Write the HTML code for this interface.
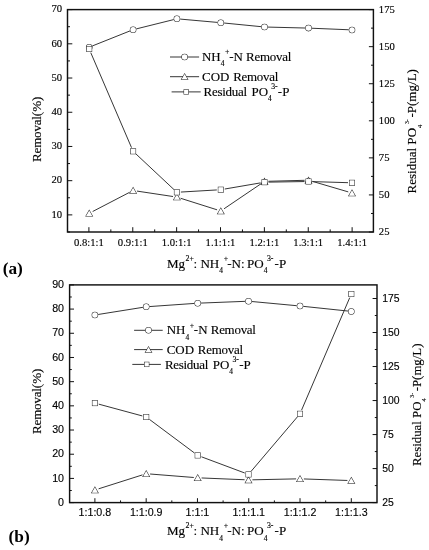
<!DOCTYPE html><html><head><meta charset="utf-8"><title>chart</title>
<style>html,body{margin:0;padding:0;background:#fff}svg{display:block}text{stroke:#000;stroke-width:0.15px;stroke-linejoin:round}</style></head><body>
<svg width="429" height="550" viewBox="0 0 429 550">
<rect width="429" height="550" fill="#fff"/><g opacity="0.999" style="paint-order:stroke">
<rect x="67.5" y="9.6" width="305.9" height="222.4" fill="none" stroke="#111" stroke-width="1.45"/>
<line x1="67.5" y1="214.89" x2="72.3" y2="214.89" stroke="#111" stroke-width="1.0"/><line x1="67.5" y1="180.68" x2="72.3" y2="180.68" stroke="#111" stroke-width="1.0"/><line x1="67.5" y1="146.46" x2="72.3" y2="146.46" stroke="#111" stroke-width="1.0"/><line x1="67.5" y1="112.25" x2="72.3" y2="112.25" stroke="#111" stroke-width="1.0"/><line x1="67.5" y1="78.03" x2="72.3" y2="78.03" stroke="#111" stroke-width="1.0"/><line x1="67.5" y1="43.82" x2="72.3" y2="43.82" stroke="#111" stroke-width="1.0"/><line x1="67.5" y1="9.60" x2="72.3" y2="9.60" stroke="#111" stroke-width="1.0"/>
<line x1="67.5" y1="232.00" x2="70.0" y2="232.00" stroke="#111" stroke-width="1.0"/><line x1="67.5" y1="197.78" x2="70.0" y2="197.78" stroke="#111" stroke-width="1.0"/><line x1="67.5" y1="163.57" x2="70.0" y2="163.57" stroke="#111" stroke-width="1.0"/><line x1="67.5" y1="129.35" x2="70.0" y2="129.35" stroke="#111" stroke-width="1.0"/><line x1="67.5" y1="95.14" x2="70.0" y2="95.14" stroke="#111" stroke-width="1.0"/><line x1="67.5" y1="60.92" x2="70.0" y2="60.92" stroke="#111" stroke-width="1.0"/><line x1="67.5" y1="26.71" x2="70.0" y2="26.71" stroke="#111" stroke-width="1.0"/>
<line x1="373.4" y1="232.00" x2="368.9" y2="232.00" stroke="#111" stroke-width="1.0"/><line x1="373.4" y1="194.93" x2="368.9" y2="194.93" stroke="#111" stroke-width="1.0"/><line x1="373.4" y1="157.87" x2="368.9" y2="157.87" stroke="#111" stroke-width="1.0"/><line x1="373.4" y1="120.80" x2="368.9" y2="120.80" stroke="#111" stroke-width="1.0"/><line x1="373.4" y1="83.73" x2="368.9" y2="83.73" stroke="#111" stroke-width="1.0"/><line x1="373.4" y1="46.67" x2="368.9" y2="46.67" stroke="#111" stroke-width="1.0"/><line x1="373.4" y1="9.60" x2="368.9" y2="9.60" stroke="#111" stroke-width="1.0"/>
<line x1="373.4" y1="213.47" x2="371.0" y2="213.47" stroke="#111" stroke-width="1.0"/><line x1="373.4" y1="176.40" x2="371.0" y2="176.40" stroke="#111" stroke-width="1.0"/><line x1="373.4" y1="139.33" x2="371.0" y2="139.33" stroke="#111" stroke-width="1.0"/><line x1="373.4" y1="102.27" x2="371.0" y2="102.27" stroke="#111" stroke-width="1.0"/><line x1="373.4" y1="65.20" x2="371.0" y2="65.20" stroke="#111" stroke-width="1.0"/><line x1="373.4" y1="28.13" x2="371.0" y2="28.13" stroke="#111" stroke-width="1.0"/>
<line x1="88.90" y1="232.0" x2="88.90" y2="227.2" stroke="#111" stroke-width="1.0"/><line x1="132.77" y1="232.0" x2="132.77" y2="227.2" stroke="#111" stroke-width="1.0"/><line x1="176.64" y1="232.0" x2="176.64" y2="227.2" stroke="#111" stroke-width="1.0"/><line x1="220.51" y1="232.0" x2="220.51" y2="227.2" stroke="#111" stroke-width="1.0"/><line x1="264.38" y1="232.0" x2="264.38" y2="227.2" stroke="#111" stroke-width="1.0"/><line x1="308.25" y1="232.0" x2="308.25" y2="227.2" stroke="#111" stroke-width="1.0"/><line x1="352.12" y1="232.0" x2="352.12" y2="227.2" stroke="#111" stroke-width="1.0"/>
<line x1="110.83" y1="232.0" x2="110.83" y2="229.4" stroke="#111" stroke-width="1.0"/><line x1="154.70" y1="232.0" x2="154.70" y2="229.4" stroke="#111" stroke-width="1.0"/><line x1="198.57" y1="232.0" x2="198.57" y2="229.4" stroke="#111" stroke-width="1.0"/><line x1="242.44" y1="232.0" x2="242.44" y2="229.4" stroke="#111" stroke-width="1.0"/><line x1="286.31" y1="232.0" x2="286.31" y2="229.4" stroke="#111" stroke-width="1.0"/><line x1="330.18" y1="232.0" x2="330.18" y2="229.4" stroke="#111" stroke-width="1.0"/>
<text x="62.20" y="217.69" font-family='"Liberation Serif", serif' font-size="10.67" fill="#000" text-anchor="end">10</text><text x="62.20" y="183.48" font-family='"Liberation Serif", serif' font-size="10.67" fill="#000" text-anchor="end">20</text><text x="62.20" y="149.26" font-family='"Liberation Serif", serif' font-size="10.67" fill="#000" text-anchor="end">30</text><text x="62.20" y="115.05" font-family='"Liberation Serif", serif' font-size="10.67" fill="#000" text-anchor="end">40</text><text x="62.20" y="80.83" font-family='"Liberation Serif", serif' font-size="10.67" fill="#000" text-anchor="end">50</text><text x="62.20" y="46.62" font-family='"Liberation Serif", serif' font-size="10.67" fill="#000" text-anchor="end">60</text><text x="62.20" y="12.40" font-family='"Liberation Serif", serif' font-size="10.67" fill="#000" text-anchor="end">70</text>
<text x="378.80" y="234.80" font-family='"Liberation Serif", serif' font-size="10.67" fill="#000" text-anchor="start">25</text><text x="378.80" y="197.88" font-family='"Liberation Serif", serif' font-size="10.67" fill="#000" text-anchor="start">50</text><text x="378.80" y="160.97" font-family='"Liberation Serif", serif' font-size="10.67" fill="#000" text-anchor="start">75</text><text x="378.80" y="124.05" font-family='"Liberation Serif", serif' font-size="10.67" fill="#000" text-anchor="start">100</text><text x="378.80" y="87.13" font-family='"Liberation Serif", serif' font-size="10.67" fill="#000" text-anchor="start">125</text><text x="378.80" y="50.22" font-family='"Liberation Serif", serif' font-size="10.67" fill="#000" text-anchor="start">150</text><text x="378.80" y="13.30" font-family='"Liberation Serif", serif' font-size="10.67" fill="#000" text-anchor="start">175</text>
<text x="88.90" y="245.90" font-family='"Liberation Serif", serif' font-size="10.67" fill="#000" text-anchor="middle">0.8:1:1</text><text x="132.77" y="245.90" font-family='"Liberation Serif", serif' font-size="10.67" fill="#000" text-anchor="middle">0.9:1:1</text><text x="176.64" y="245.90" font-family='"Liberation Serif", serif' font-size="10.67" fill="#000" text-anchor="middle">1.0:1:1</text><text x="220.51" y="245.90" font-family='"Liberation Serif", serif' font-size="10.67" fill="#000" text-anchor="middle">1.1:1:1</text><text x="264.38" y="245.90" font-family='"Liberation Serif", serif' font-size="10.67" fill="#000" text-anchor="middle">1.2:1:1</text><text x="308.25" y="245.90" font-family='"Liberation Serif", serif' font-size="10.67" fill="#000" text-anchor="middle">1.3:1:1</text><text x="352.12" y="245.90" font-family='"Liberation Serif", serif' font-size="10.67" fill="#000" text-anchor="middle">1.4:1:1</text>
<path d="M92.27 45.98 L130.03 30.92 M136.30 28.90 L173.70 19.60 M180.19 19.09 L217.51 22.41 M224.08 23.02 L261.22 26.68 M267.80 27.08 L305.20 28.02 M311.80 28.24 L348.70 29.76 " fill="none" stroke="#2b2b2b" stroke-width="0.95"/><circle cx="89.2" cy="47.2" r="2.75" fill="#fff" stroke="#252525" stroke-width="1.05"/><circle cx="133.1" cy="29.7" r="2.75" fill="#fff" stroke="#252525" stroke-width="1.05"/><circle cx="176.9" cy="18.8" r="2.75" fill="#fff" stroke="#252525" stroke-width="1.05"/><circle cx="220.8" cy="22.7" r="2.75" fill="#fff" stroke="#252525" stroke-width="1.05"/><circle cx="264.5" cy="27.0" r="2.75" fill="#fff" stroke="#252525" stroke-width="1.05"/><circle cx="308.5" cy="28.1" r="2.75" fill="#fff" stroke="#252525" stroke-width="1.05"/><circle cx="352.0" cy="29.9" r="2.75" fill="#fff" stroke="#252525" stroke-width="1.05"/>
<path d="M92.66 211.50 L129.64 192.30 M136.96 191.08 L173.04 196.52 M180.62 198.28 L217.08 209.82 M224.03 208.81 L261.27 183.59 M268.40 181.29 L304.60 180.31 M312.24 181.30 L348.26 191.90 " fill="none" stroke="#2b2b2b" stroke-width="0.95"/><path d="M89.20 210.57 L92.30 216.03 L86.10 216.03 Z" fill="#fff" stroke="#252525" stroke-width="1.05" stroke-linejoin="miter"/><path d="M133.10 187.77 L136.20 193.23 L130.00 193.23 Z" fill="#fff" stroke="#252525" stroke-width="1.05" stroke-linejoin="miter"/><path d="M176.90 194.37 L180.00 199.83 L173.80 199.83 Z" fill="#fff" stroke="#252525" stroke-width="1.05" stroke-linejoin="miter"/><path d="M220.80 208.27 L223.90 213.73 L217.70 213.73 Z" fill="#fff" stroke="#252525" stroke-width="1.05" stroke-linejoin="miter"/><path d="M264.50 178.67 L267.60 184.13 L261.40 184.13 Z" fill="#fff" stroke="#252525" stroke-width="1.05" stroke-linejoin="miter"/><path d="M308.50 177.47 L311.60 182.93 L305.40 182.93 Z" fill="#fff" stroke="#252525" stroke-width="1.05" stroke-linejoin="miter"/><path d="M352.00 190.27 L355.10 195.73 L348.90 195.73 Z" fill="#fff" stroke="#252525" stroke-width="1.05" stroke-linejoin="miter"/>
<path d="M90.78 52.68 L131.52 147.62 M136.02 154.03 L173.98 189.57 M180.89 192.06 L216.81 189.94 M224.74 189.02 L260.56 182.88 M268.50 182.14 L304.50 181.56 M312.50 181.62 L348.00 182.68 " fill="none" stroke="#2b2b2b" stroke-width="0.95"/><rect x="86.75" y="46.55" width="4.9" height="4.9" fill="#fff" stroke="#252525" stroke-width="1.05"/><rect x="130.65" y="148.85" width="4.9" height="4.9" fill="#fff" stroke="#252525" stroke-width="1.05"/><rect x="174.45" y="189.85" width="4.9" height="4.9" fill="#fff" stroke="#252525" stroke-width="1.05"/><rect x="218.35" y="187.25" width="4.9" height="4.9" fill="#fff" stroke="#252525" stroke-width="1.05"/><rect x="262.05" y="179.75" width="4.9" height="4.9" fill="#fff" stroke="#252525" stroke-width="1.05"/><rect x="306.05" y="179.05" width="4.9" height="4.9" fill="#fff" stroke="#252525" stroke-width="1.05"/><rect x="349.55" y="180.35" width="4.9" height="4.9" fill="#fff" stroke="#252525" stroke-width="1.05"/>
<line x1="170.0" y1="57.0" x2="199.1" y2="57.0" stroke="#2b2b2b" stroke-width="0.95"/><circle cx="184.6" cy="57.0" r="2.75" fill="#fff" stroke="#252525" stroke-width="1.05"/><line x1="170.0" y1="76.7" x2="199.1" y2="76.7" stroke="#2b2b2b" stroke-width="0.95"/><path d="M184.60 74.06 L187.60 79.34 L181.60 79.34 Z" fill="#fff" stroke="#252525" stroke-width="1.05" stroke-linejoin="miter"/><line x1="171.6" y1="91.9" x2="200.7" y2="91.9" stroke="#2b2b2b" stroke-width="0.95"/><rect x="184.10" y="89.80" width="4.2" height="4.2" fill="#fff" stroke="#252525" stroke-width="1.05"/><text x="202.0" y="60.7" font-family='"Liberation Serif", serif' font-size="12.95" fill="#000" text-anchor="start" >NH<tspan font-size="7.38" dx="0.0" dy="5.31">4</tspan><tspan dy="-5.31">&#8203;</tspan><tspan font-size="7.77" dx="0.7" dy="-6.86">+</tspan><tspan dx="-0.3" dy="6.86">&#8203;</tspan>-N <tspan dx="0" letter-spacing="-0.25">Removal</tspan></text><text x="202.0" y="80.7" font-family='"Liberation Serif", serif' font-size="12.95" fill="#000" text-anchor="start" >COD <tspan dx="0.6" letter-spacing="-0.25">Removal</tspan></text><text x="203.6" y="95.5" font-family='"Liberation Serif", serif' font-size="12.95" fill="#000" text-anchor="start" ><tspan dx="0" letter-spacing="-0.27">Residual</tspan><tspan dx="1.55" letter-spacing="0"> PO</tspan><tspan font-size="7.38" dx="0.0" dy="5.31">4</tspan><tspan dy="-5.31">&#8203;</tspan><tspan font-size="7.77" dx="-0.6" dy="-6.86">3-</tspan><tspan dx="-0.3" dy="6.86">&#8203;</tspan><tspan dx="0.5" letter-spacing="0">-P</tspan></text>
<text x="0" y="0" font-family='"Liberation Serif", serif' font-size="13.07" fill="#000" text-anchor="middle" transform="translate(41.0 129.3) rotate(-90)"><tspan dx="0" letter-spacing="-0.2">Removal</tspan>(%)</text>
<text x="0" y="0" font-family='"Liberation Serif", serif' font-size="13.05" fill="#000" text-anchor="middle" transform="translate(416.3 131.3) rotate(-90)">Residual PO<tspan font-size="6.53" dx="0.0" dy="5.35">4</tspan><tspan dy="-5.35">&#8203;</tspan><tspan font-size="5.87" dx="0.6" dy="-6.92">3-</tspan><tspan dx="1.6" dy="6.92">&#8203;</tspan>-P(mg/L)</text>
<text x="226.6" y="267.9" font-family='"Liberation Serif", serif' font-size="13.07" fill="#000" text-anchor="middle" >Mg<tspan font-size="7.84" dx="0.3" dy="-6.93">2+</tspan><tspan dx="-0.3" dy="6.93">&#8203;</tspan>: NH<tspan font-size="7.45" dx="0.0" dy="5.36">4</tspan><tspan dy="-5.36">&#8203;</tspan><tspan font-size="7.84" dx="0.7" dy="-6.93">+</tspan><tspan dx="-0.3" dy="6.93">&#8203;</tspan><tspan dx="-0.6" letter-spacing="0">-N:</tspan><tspan dx="-0.8" letter-spacing="0"> PO</tspan><tspan font-size="7.45" dx="0.0" dy="5.36">4</tspan><tspan dy="-5.36">&#8203;</tspan><tspan font-size="7.84" dx="-0.6" dy="-6.93">3-</tspan><tspan dx="-0.3" dy="6.93">&#8203;</tspan><tspan dx="1.4" letter-spacing="0">-P</tspan></text>
<text x="2.7" y="274.2" font-family='"Liberation Serif", serif' font-size="17.3" font-weight="bold" fill="#000" style="stroke:none">(a)</text>
<rect x="69.6" y="284.9" width="307.4" height="217.70000000000005" fill="none" stroke="#111" stroke-width="1.45"/>
<line x1="69.6" y1="502.60" x2="74.0" y2="502.60" stroke="#111" stroke-width="1.0"/><line x1="69.6" y1="478.41" x2="74.0" y2="478.41" stroke="#111" stroke-width="1.0"/><line x1="69.6" y1="454.22" x2="74.0" y2="454.22" stroke="#111" stroke-width="1.0"/><line x1="69.6" y1="430.03" x2="74.0" y2="430.03" stroke="#111" stroke-width="1.0"/><line x1="69.6" y1="405.84" x2="74.0" y2="405.84" stroke="#111" stroke-width="1.0"/><line x1="69.6" y1="381.66" x2="74.0" y2="381.66" stroke="#111" stroke-width="1.0"/><line x1="69.6" y1="357.47" x2="74.0" y2="357.47" stroke="#111" stroke-width="1.0"/><line x1="69.6" y1="333.28" x2="74.0" y2="333.28" stroke="#111" stroke-width="1.0"/><line x1="69.6" y1="309.09" x2="74.0" y2="309.09" stroke="#111" stroke-width="1.0"/><line x1="69.6" y1="284.90" x2="74.0" y2="284.90" stroke="#111" stroke-width="1.0"/>
<line x1="69.6" y1="490.51" x2="71.8" y2="490.51" stroke="#111" stroke-width="1.0"/><line x1="69.6" y1="466.32" x2="71.8" y2="466.32" stroke="#111" stroke-width="1.0"/><line x1="69.6" y1="442.13" x2="71.8" y2="442.13" stroke="#111" stroke-width="1.0"/><line x1="69.6" y1="417.94" x2="71.8" y2="417.94" stroke="#111" stroke-width="1.0"/><line x1="69.6" y1="393.75" x2="71.8" y2="393.75" stroke="#111" stroke-width="1.0"/><line x1="69.6" y1="369.56" x2="71.8" y2="369.56" stroke="#111" stroke-width="1.0"/><line x1="69.6" y1="345.37" x2="71.8" y2="345.37" stroke="#111" stroke-width="1.0"/><line x1="69.6" y1="321.18" x2="71.8" y2="321.18" stroke="#111" stroke-width="1.0"/><line x1="69.6" y1="296.99" x2="71.8" y2="296.99" stroke="#111" stroke-width="1.0"/>
<line x1="377.0" y1="502.60" x2="372.6" y2="502.60" stroke="#111" stroke-width="1.0"/><line x1="377.0" y1="468.58" x2="372.6" y2="468.58" stroke="#111" stroke-width="1.0"/><line x1="377.0" y1="434.57" x2="372.6" y2="434.57" stroke="#111" stroke-width="1.0"/><line x1="377.0" y1="400.55" x2="372.6" y2="400.55" stroke="#111" stroke-width="1.0"/><line x1="377.0" y1="366.54" x2="372.6" y2="366.54" stroke="#111" stroke-width="1.0"/><line x1="377.0" y1="332.52" x2="372.6" y2="332.52" stroke="#111" stroke-width="1.0"/><line x1="377.0" y1="298.51" x2="372.6" y2="298.51" stroke="#111" stroke-width="1.0"/>
<line x1="377.0" y1="485.59" x2="374.8" y2="485.59" stroke="#111" stroke-width="1.0"/><line x1="377.0" y1="451.58" x2="374.8" y2="451.58" stroke="#111" stroke-width="1.0"/><line x1="377.0" y1="417.56" x2="374.8" y2="417.56" stroke="#111" stroke-width="1.0"/><line x1="377.0" y1="383.55" x2="374.8" y2="383.55" stroke="#111" stroke-width="1.0"/><line x1="377.0" y1="349.53" x2="374.8" y2="349.53" stroke="#111" stroke-width="1.0"/><line x1="377.0" y1="315.51" x2="374.8" y2="315.51" stroke="#111" stroke-width="1.0"/>
<line x1="94.90" y1="502.6" x2="94.90" y2="498.20000000000005" stroke="#111" stroke-width="1.0"/><line x1="146.18" y1="502.6" x2="146.18" y2="498.20000000000005" stroke="#111" stroke-width="1.0"/><line x1="197.46" y1="502.6" x2="197.46" y2="498.20000000000005" stroke="#111" stroke-width="1.0"/><line x1="248.74" y1="502.6" x2="248.74" y2="498.20000000000005" stroke="#111" stroke-width="1.0"/><line x1="300.02" y1="502.6" x2="300.02" y2="498.20000000000005" stroke="#111" stroke-width="1.0"/><line x1="351.30" y1="502.6" x2="351.30" y2="498.20000000000005" stroke="#111" stroke-width="1.0"/>
<line x1="120.54" y1="502.6" x2="120.54" y2="500.40000000000003" stroke="#111" stroke-width="1.0"/><line x1="171.82" y1="502.6" x2="171.82" y2="500.40000000000003" stroke="#111" stroke-width="1.0"/><line x1="223.10" y1="502.6" x2="223.10" y2="500.40000000000003" stroke="#111" stroke-width="1.0"/><line x1="274.38" y1="502.6" x2="274.38" y2="500.40000000000003" stroke="#111" stroke-width="1.0"/><line x1="325.66" y1="502.6" x2="325.66" y2="500.40000000000003" stroke="#111" stroke-width="1.0"/>
<text x="64.00" y="505.80" font-family='"Liberation Sans", sans-serif' font-size="10.67" fill="#000" text-anchor="end">0</text><text x="64.00" y="481.61" font-family='"Liberation Sans", sans-serif' font-size="10.67" fill="#000" text-anchor="end">10</text><text x="64.00" y="457.42" font-family='"Liberation Sans", sans-serif' font-size="10.67" fill="#000" text-anchor="end">20</text><text x="64.00" y="433.23" font-family='"Liberation Sans", sans-serif' font-size="10.67" fill="#000" text-anchor="end">30</text><text x="64.00" y="409.04" font-family='"Liberation Sans", sans-serif' font-size="10.67" fill="#000" text-anchor="end">40</text><text x="64.00" y="384.86" font-family='"Liberation Sans", sans-serif' font-size="10.67" fill="#000" text-anchor="end">50</text><text x="64.00" y="360.67" font-family='"Liberation Sans", sans-serif' font-size="10.67" fill="#000" text-anchor="end">60</text><text x="64.00" y="336.48" font-family='"Liberation Sans", sans-serif' font-size="10.67" fill="#000" text-anchor="end">70</text><text x="64.00" y="312.29" font-family='"Liberation Sans", sans-serif' font-size="10.67" fill="#000" text-anchor="end">80</text><text x="64.00" y="288.10" font-family='"Liberation Sans", sans-serif' font-size="10.67" fill="#000" text-anchor="end">90</text>
<text x="382.30" y="505.90" font-family='"Liberation Sans", sans-serif' font-size="10.4" fill="#000" text-anchor="start">25</text><text x="382.30" y="471.88" font-family='"Liberation Sans", sans-serif' font-size="10.4" fill="#000" text-anchor="start">50</text><text x="382.30" y="437.87" font-family='"Liberation Sans", sans-serif' font-size="10.4" fill="#000" text-anchor="start">75</text><text x="382.30" y="403.85" font-family='"Liberation Sans", sans-serif' font-size="10.4" fill="#000" text-anchor="start">100</text><text x="382.30" y="369.84" font-family='"Liberation Sans", sans-serif' font-size="10.4" fill="#000" text-anchor="start">125</text><text x="382.30" y="335.82" font-family='"Liberation Sans", sans-serif' font-size="10.4" fill="#000" text-anchor="start">150</text><text x="382.30" y="301.81" font-family='"Liberation Sans", sans-serif' font-size="10.4" fill="#000" text-anchor="start">175</text>
<text x="94.90" y="516.10" font-family='"Liberation Sans", sans-serif' font-size="10.67" fill="#000" text-anchor="middle">1:1:0.8</text><text x="146.18" y="516.10" font-family='"Liberation Sans", sans-serif' font-size="10.67" fill="#000" text-anchor="middle">1:1:0.9</text><text x="197.46" y="516.10" font-family='"Liberation Sans", sans-serif' font-size="10.67" fill="#000" text-anchor="middle">1:1:1</text><text x="248.74" y="516.10" font-family='"Liberation Sans", sans-serif' font-size="10.67" fill="#000" text-anchor="middle">1:1:1.1</text><text x="300.02" y="516.10" font-family='"Liberation Sans", sans-serif' font-size="10.67" fill="#000" text-anchor="middle">1:1:1.2</text><text x="351.30" y="516.10" font-family='"Liberation Sans", sans-serif' font-size="10.67" fill="#000" text-anchor="middle">1:1:1.3</text>
<path d="M98.16 314.48 L142.94 307.32 M149.49 306.57 L194.41 303.43 M201.00 303.07 L245.20 301.33 M251.79 301.51 L296.71 305.69 M303.28 306.35 L348.02 311.05 " fill="none" stroke="#2b2b2b" stroke-width="0.95"/><circle cx="94.9" cy="315.0" r="2.75" fill="#fff" stroke="#252525" stroke-width="1.05"/><circle cx="146.2" cy="306.8" r="2.75" fill="#fff" stroke="#252525" stroke-width="1.05"/><circle cx="197.7" cy="303.2" r="2.75" fill="#fff" stroke="#252525" stroke-width="1.05"/><circle cx="248.5" cy="301.2" r="2.75" fill="#fff" stroke="#252525" stroke-width="1.05"/><circle cx="300.0" cy="306.0" r="2.75" fill="#fff" stroke="#252525" stroke-width="1.05"/><circle cx="351.3" cy="311.4" r="2.75" fill="#fff" stroke="#252525" stroke-width="1.05"/>
<path d="M98.62 488.82 L142.48 474.88 M150.09 474.01 L193.81 477.49 M201.60 477.96 L244.60 479.74 M252.40 479.82 L296.10 478.88 M303.90 478.94 L347.40 480.46 " fill="none" stroke="#2b2b2b" stroke-width="0.95"/><path d="M94.90 487.27 L98.00 492.73 L91.80 492.73 Z" fill="#fff" stroke="#252525" stroke-width="1.05" stroke-linejoin="miter"/><path d="M146.20 470.97 L149.30 476.43 L143.10 476.43 Z" fill="#fff" stroke="#252525" stroke-width="1.05" stroke-linejoin="miter"/><path d="M197.70 475.07 L200.80 480.53 L194.60 480.53 Z" fill="#fff" stroke="#252525" stroke-width="1.05" stroke-linejoin="miter"/><path d="M248.50 477.17 L251.60 482.63 L245.40 482.63 Z" fill="#fff" stroke="#252525" stroke-width="1.05" stroke-linejoin="miter"/><path d="M300.00 476.07 L303.10 481.53 L296.90 481.53 Z" fill="#fff" stroke="#252525" stroke-width="1.05" stroke-linejoin="miter"/><path d="M351.30 477.87 L354.40 483.33 L348.20 483.33 Z" fill="#fff" stroke="#252525" stroke-width="1.05" stroke-linejoin="miter"/>
<path d="M98.76 404.15 L142.34 415.95 M149.41 419.39 L194.49 453.01 M201.45 456.80 L244.75 473.00 M251.09 471.35 L297.41 416.85 M301.57 410.12 L349.73 297.68 " fill="none" stroke="#2b2b2b" stroke-width="0.95"/><rect x="92.45" y="400.65" width="4.9" height="4.9" fill="#fff" stroke="#252525" stroke-width="1.05"/><rect x="143.75" y="414.55" width="4.9" height="4.9" fill="#fff" stroke="#252525" stroke-width="1.05"/><rect x="195.25" y="452.95" width="4.9" height="4.9" fill="#fff" stroke="#252525" stroke-width="1.05"/><rect x="246.05" y="471.95" width="4.9" height="4.9" fill="#fff" stroke="#252525" stroke-width="1.05"/><rect x="297.55" y="411.35" width="4.9" height="4.9" fill="#fff" stroke="#252525" stroke-width="1.05"/><rect x="348.85" y="291.55" width="4.9" height="4.9" fill="#fff" stroke="#252525" stroke-width="1.05"/>
<line x1="134.1" y1="330.3" x2="162.7" y2="330.3" stroke="#2b2b2b" stroke-width="0.95"/><circle cx="148.5" cy="330.3" r="2.75" fill="#fff" stroke="#252525" stroke-width="1.05"/><line x1="134.1" y1="349.6" x2="162.7" y2="349.6" stroke="#2b2b2b" stroke-width="0.95"/><path d="M148.50 346.96 L151.50 352.24 L145.50 352.24 Z" fill="#fff" stroke="#252525" stroke-width="1.05" stroke-linejoin="miter"/><line x1="132.29999999999998" y1="364.4" x2="160.89999999999998" y2="364.4" stroke="#2b2b2b" stroke-width="0.95"/><rect x="144.60" y="362.30" width="4.2" height="4.2" fill="#fff" stroke="#252525" stroke-width="1.05"/><text x="166.7" y="334.4" font-family='"Liberation Serif", serif' font-size="12.95" fill="#000" text-anchor="start" >NH<tspan font-size="7.38" dx="0.0" dy="5.31">4</tspan><tspan dy="-5.31">&#8203;</tspan><tspan font-size="7.77" dx="0.7" dy="-6.86">+</tspan><tspan dx="-0.3" dy="6.86">&#8203;</tspan>-N <tspan dx="0" letter-spacing="-0.25">Removal</tspan></text><text x="166.7" y="354.0" font-family='"Liberation Serif", serif' font-size="12.95" fill="#000" text-anchor="start" >COD <tspan dx="0.6" letter-spacing="-0.25">Removal</tspan></text><text x="164.89999999999998" y="369.0" font-family='"Liberation Serif", serif' font-size="12.95" fill="#000" text-anchor="start" ><tspan dx="0" letter-spacing="-0.27">Residual</tspan><tspan dx="1.55" letter-spacing="0"> PO</tspan><tspan font-size="7.38" dx="0.0" dy="5.31">4</tspan><tspan dy="-5.31">&#8203;</tspan><tspan font-size="7.77" dx="-0.6" dy="-6.86">3-</tspan><tspan dx="-0.3" dy="6.86">&#8203;</tspan><tspan dx="0.5" letter-spacing="0">-P</tspan></text>
<text x="0" y="0" font-family='"Liberation Serif", serif' font-size="13.07" fill="#000" text-anchor="middle" transform="translate(41.3 401.3) rotate(-90)"><tspan dx="0" letter-spacing="-0.2">Removal</tspan>(%)</text>
<text x="0" y="0" font-family='"Liberation Serif", serif' font-size="12.85" fill="#000" text-anchor="middle" transform="translate(420.7 404.8) rotate(-90)">Residual PO<tspan font-size="6.42" dx="0.0" dy="5.27">4</tspan><tspan dy="-5.27">&#8203;</tspan><tspan font-size="5.78" dx="0.6" dy="-6.81">3-</tspan><tspan dx="1.6" dy="6.81">&#8203;</tspan>-P(mg/L)</text>
<text x="226.6" y="535.2" font-family='"Liberation Serif", serif' font-size="13.07" fill="#000" text-anchor="middle" >Mg<tspan font-size="7.84" dx="0.3" dy="-6.93">2+</tspan><tspan dx="-0.3" dy="6.93">&#8203;</tspan>: NH<tspan font-size="7.45" dx="0.0" dy="5.36">4</tspan><tspan dy="-5.36">&#8203;</tspan><tspan font-size="7.84" dx="0.7" dy="-6.93">+</tspan><tspan dx="-0.3" dy="6.93">&#8203;</tspan><tspan dx="-0.6" letter-spacing="0">-N:</tspan><tspan dx="-0.8" letter-spacing="0"> PO</tspan><tspan font-size="7.45" dx="0.0" dy="5.36">4</tspan><tspan dy="-5.36">&#8203;</tspan><tspan font-size="7.84" dx="-0.6" dy="-6.93">3-</tspan><tspan dx="-0.3" dy="6.93">&#8203;</tspan><tspan dx="1.4" letter-spacing="0">-P</tspan></text>
<text x="8.6" y="541.8" font-family='"Liberation Serif", serif' font-size="17.3" font-weight="bold" fill="#000" style="stroke:none">(b)</text>
</g></svg></body></html>
